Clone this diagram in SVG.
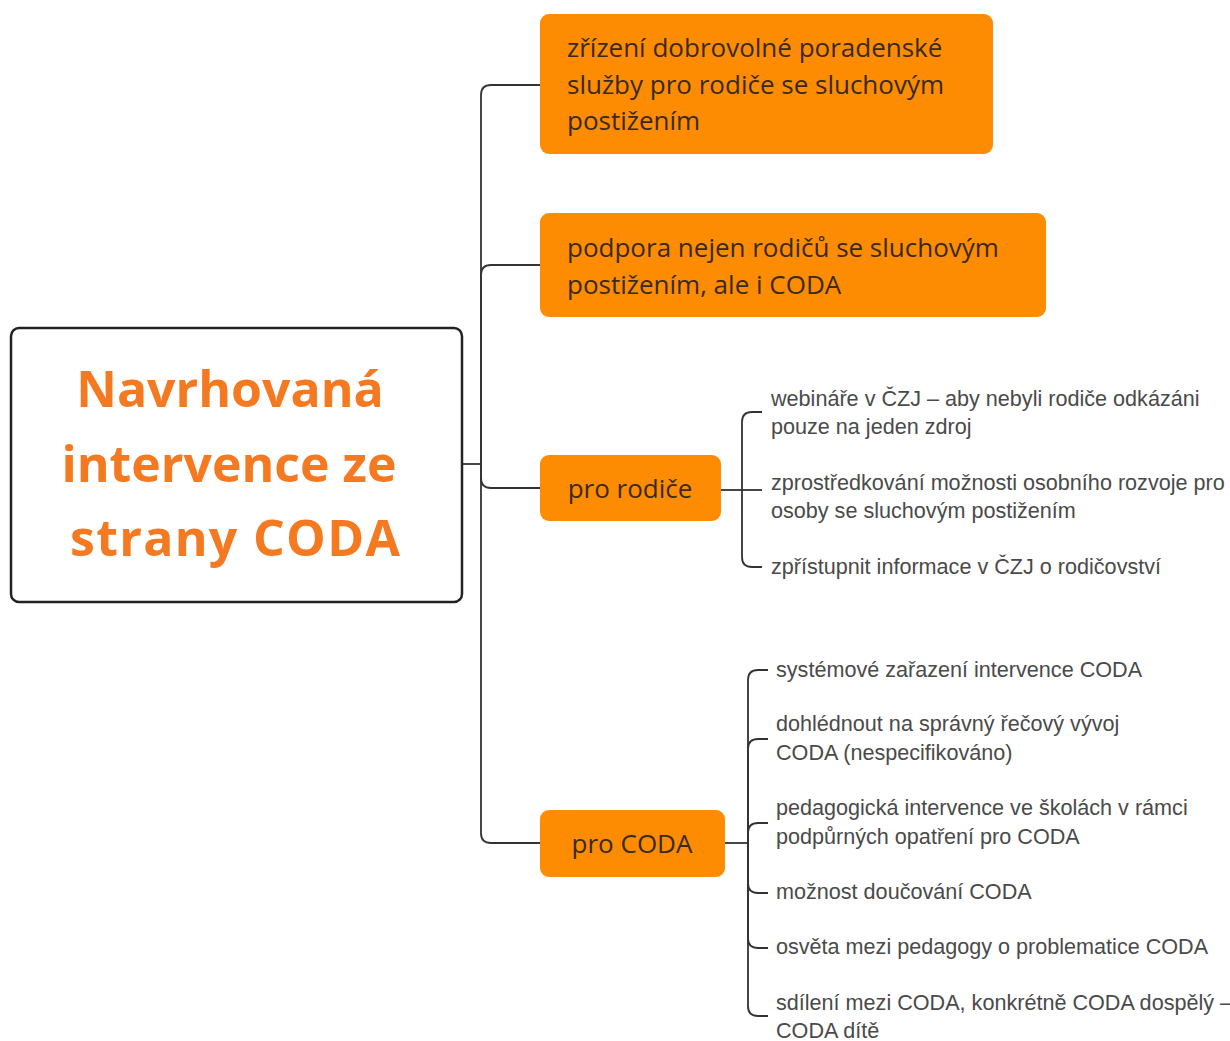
<svg xmlns="http://www.w3.org/2000/svg" width="1230" height="1041" viewBox="0 0 1230 1041">
<style>
.bg{fill:#ffffff}
.conn path{fill:none;stroke:#333333;stroke-width:1.8}
.root rect{fill:#ffffff;stroke:#222222;stroke-width:2.5}
.title{font-family:"Open Sans","Noto Sans",sans-serif;font-weight:bold;font-size:50px;fill:#f47920;text-anchor:middle}
.obox{fill:#fd8c03}
.otext{font-family:"Open Sans","Noto Sans",sans-serif;font-size:26px;fill:#3a2a1e}
.ctext{font-family:"Open Sans","Noto Sans",sans-serif;font-size:26px;fill:#3a2a1e;text-anchor:middle}
.leaf{font-family:"Liberation Sans","Arial",sans-serif;font-size:21.6px;fill:#4a4a4a}
</style>
<rect class="bg" x="0" y="0" width="1230" height="1041"/>
<g class="conn" id="connectors">
<path d="M462,464 H481"/>
<path d="M481,464 V95 Q481,85 491,85 H540"/>
<path d="M481,464 V275 Q481,265 491,265 H540"/>
<path d="M481,464 V478 Q481,488 491,488 H540"/>
<path d="M481,464 V833 Q481,843 491,843 H540"/>
<path d="M721,490 H742"/>
<path d="M742,490 V422 Q742,412 752,412 H762"/>
<path d="M742,490 H762"/>
<path d="M742,490 V557 Q742,567 752,567 H762"/>
<path d="M725,843 H748"/>
<path d="M748,843 V680 Q748,670 758,670 H768"/>
<path d="M748,843 V749 Q748,739 758,739 H768"/>
<path d="M748,843 V833 Q748,823 758,823 H768"/>
<path d="M748,843 V883 Q748,893 758,893 H768"/>
<path d="M748,843 V938 Q748,948 758,948 H768"/>
<path d="M748,843 V1006 Q748,1016 758,1016 H768"/>
</g>
<g class="root" id="root">
<rect x="11" y="328" width="451" height="274" rx="8"/>
<text class="title" x="230" y="407">Navrhovaná</text>
<text class="title" x="229" y="482">intervence ze</text>
<text class="title" x="235" y="556" textLength="330">strany CODA</text>
</g>
<g id="n1">
<rect class="obox" x="540" y="14" width="453" height="140" rx="9"/>
<text class="otext" x="567" y="57">zřízení dobrovolné poradenské</text>
<text class="otext" x="567" y="94">služby pro rodiče se sluchovým</text>
<text class="otext" x="567" y="130">postižením</text>
</g>
<g id="n2">
<rect class="obox" x="540" y="213" width="506" height="104" rx="9"/>
<text class="otext" x="567" y="257">podpora nejen rodičů se sluchovým</text>
<text class="otext" x="567" y="294">postižením, ale i CODA</text>
</g>
<g id="n3">
<rect class="obox" x="540" y="455" width="181" height="66" rx="9"/>
<text class="ctext" x="630" y="498">pro rodiče</text>
</g>
<g id="n4">
<rect class="obox" x="540" y="810" width="185" height="67" rx="9"/>
<text class="ctext" x="632" y="853">pro CODA</text>
</g>
<g id="r1"><text class="leaf" x="771" y="406">webináře v ČZJ – aby nebyli rodiče odkázáni</text><text class="leaf" x="771" y="434">pouze na jeden zdroj</text></g>
<g id="r2"><text class="leaf" x="771" y="490">zprostředkování možnosti osobního rozvoje pro</text><text class="leaf" x="771" y="518">osoby se sluchovým postižením</text></g>
<g id="r3"><text class="leaf" x="771" y="574">zpřístupnit informace v ČZJ o rodičovství</text></g>
<g id="c1"><text class="leaf" x="776" y="677">systémové zařazení intervence CODA</text></g>
<g id="c2"><text class="leaf" x="776" y="731">dohlédnout na správný řečový vývoj</text><text class="leaf" x="776" y="760">CODA (nespecifikováno)</text></g>
<g id="c3"><text class="leaf" x="776" y="815">pedagogická intervence ve školách v rámci</text><text class="leaf" x="776" y="844">podpůrných opatření pro CODA</text></g>
<g id="c4"><text class="leaf" x="776" y="899">možnost doučování CODA</text></g>
<g id="c5"><text class="leaf" x="776" y="954">osvěta mezi pedagogy o problematice CODA</text></g>
<g id="c6"><text class="leaf" x="776" y="1010">sdílení mezi CODA, konkrétně CODA dospělý –</text><text class="leaf" x="776" y="1038">CODA dítě</text></g>
</svg>
